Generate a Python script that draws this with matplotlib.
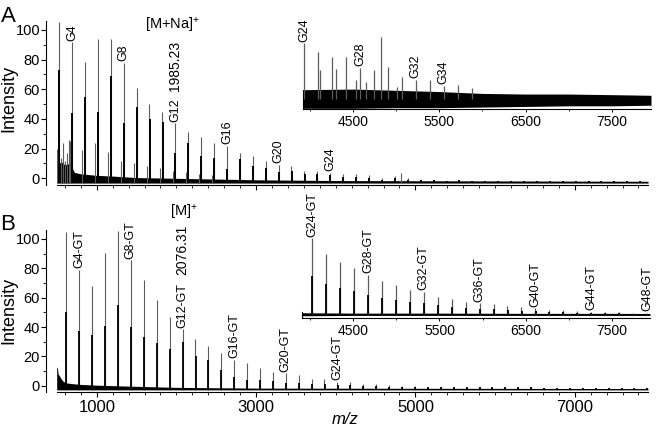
import matplotlib.pyplot as plt
from matplotlib.ticker import MultipleLocator
import numpy as np

plt.rcParams['font.family'] = ['Liberation Sans', 'DejaVu Sans']
plt.rcParams['mathtext.default'] = 'regular'

HEX = 162.05          # glucose residue
MZ_A12 = 1985.23      # G12 [M+Na]+
MZ_B12 = 2076.31      # G12-GT [M]+

# ---- panel A, [M+Na]+ series ----
a_dp = np.arange(3, 49)
a_top = [105, 91.7, 78.7, 94, 94, 78, 61, 50, 45, 37, 31, 28, 24, 22, 17, 15, 12,
         9, 8.5, 5.2, 4.6, 3.8, 2.7, 2.7, 2, 0.5, 1.6, 0,
         -1, -1, -1.5, -1, -1.5, -1.5, -1.5, -1.5, -2, -1.5, -2, -2, -2, -2, -2, -2, -2, -2]
a_core = [73, 44, 55, 45, 69, 37, 48, 40, 38, 17, 24, 15, 14, 6, 13, 8, 7,
          4, 5, 3, 3, 2, 1, 1, 0.5, -1, 0, -1,
          -1, -1, -1.5, -1, -1.5, -1.5, -1.5, -1.5, -2, -1.5, -2, -2, -2, -2, -2, -2, -2, -2]
a_sat_dp = np.arange(4, 16)
a_sat = [25, 19, 24, 18, 12, 10, 8, 7, 5, 4, 3, 2]
a_extra_mz = [500, 506, 545, 573, 600, 622, 652, 4818]
a_extra = [20, 18, 14, 24, 12, 17, 26, 3.8]
a_noise_mz = [497, 520, 560, 600, 650, 690, 720, 800, 900, 1000, 1200, 1500, 2000, 3000, 4000, 7920]
a_noise = [12, 10, 11, 9, 10, 7, 4, 3, 2.5, 2, 1.5, 0.5, 0, -1, -1.5, -2]
a_base = -3.2

# ---- panel A inset ----
ia_dp = np.arange(24, 37)
ia_top = [90, 76, 68, 68, 50, 47, 52, 35, 31, 31, 21, 23, 18]
ia_extra_mz = [4113, 4299, 4531, 4647, 4818, 5004]
ia_extra = [47, 48, 31, 27, 100, 19]
ia_noise_mz = [3912, 4500, 5000, 5500, 6000, 6500, 7000, 7500, 7957]
ia_noise_hi = [15, 16, 14, 12, 9, 8, 8, 7, 6]
ia_noise_lo = [-15, -15, -14, -14, -13, -12, -11, -11, -10]

# ---- panel B, [M]+ series (GT) ----
b_dp = np.arange(3, 49)
b_top = [104.5, 79, 67.7, 90.5, 105, 85.3, 71.8, 58.7, 47, 38.4, 31.6, 27.3, 22.1, 17.6,
         15.8, 12, 9.7, 8.6, 7.6, 4.5, 4.5, 2.9, 2.9, 1.4, 1, 0.5, 0, -0.3,
         -0.5, -0.5, -0.8, -0.8, -1, -1, -1, -1, -1, -1.2, -1.2, -1.2, -1.2, -1.2, -1.2, -1.2, -1.2, -1.2]
b_core = [50, 37, 34.5, 41, 55, 40, 33, 29, 25, 30, 20, 17.6, 11, 6.3,
          4, 4, 3, 2, 2, 1, 1, 0.5, 0.5, 0, 0, -0.5, -1, -1,
          -0.5, -0.5, -0.8, -0.8, -1, -1, -1, -1, -1, -1.2, -1.2, -1.2, -1.2, -1.2, -1.2, -1.2, -1.2, -1.2]
b_noise_mz = [497, 505, 515, 530, 550, 580, 620, 700, 800, 1000, 1300, 2000, 3000, 7920]
b_noise = [12, 13, 8, 7, 5, 3, 2, 1.5, 1, 0.5, 0, -1, -1.5, -1.8]
b_base = -2.7

# ---- panel B inset ----
ib_dp = np.arange(24, 49)
ib_top = [100, 79.3, 69.3, 60.5, 51.7, 43.8, 38.6, 32, 29.9, 23.3, 20.1, 15.8, 14.5,
          13.2, 11.4, 9.2, 7.9, 6, 5, 4.5, 3.5, 3, 2.5, 2, 2]
ib_core = [50, 40, 35, 30, 26, 22, 19, 16, 15, 12, 10, 8, 7,
           6.6, 5.7, 4.6, 4, 3, 2.5, 2.2, 1.8, 1.5, 1.2, 1, 1]
ib_noise_mz = [3900, 4500, 5500, 6500, 7500, 7945]
ib_noise_hi = [2, 1.5, 1.5, 1.2, 1.2, 1]
ib_noise_lo = [-2, -1.5, -1.5, -1.5, -1.5, -1.5]

a_mz = MZ_A12 + (a_dp - 12) * HEX
b_mz = MZ_B12 + (b_dp - 12) * HEX

W, H = 656, 428
fig = plt.figure(figsize=(W / 100, H / 100), dpi=100)


def box(l, t, r, b):
    return [l / W, 1 - b / H, (r - l) / W, (b - t) / H]


ax_a = fig.add_axes(box(56.7, 21, 648, 185))
ax_b = fig.add_axes(box(56.7, 230, 648, 391.5))
in_a = fig.add_axes(box(302.7, 30, 651, 109.3))
in_b = fig.add_axes(box(301.7, 230, 650, 318.3))

GRAY = '#5c5c5c'
LAB = dict(rotation=90, ha='center', va='bottom', fontsize=9,
           textcoords='offset points', xytext=(0, 1.2))


def label(ax, x, y, txt, mass=None, gap=4):
    t = ax.annotate(txt, (x, y), **LAB)
    if mass:
        # mass value in a larger font, stacked above the series name
        fig.canvas.draw()
        h = t.get_window_extent().height * 72 / fig.dpi
        ax.annotate(mass, (x, y), rotation=90, ha='center', va='bottom', fontsize=10,
                    textcoords='offset points', xytext=(0, 1.2 + h + gap))


def main_style(ax, ylo, labels):
    ax.set_xlim(497, 7920)
    ax.set_ylim(ylo, 106)
    for s in ['top', 'right']:
        ax.spines[s].set_visible(False)
    for s in ['left', 'bottom']:
        ax.spines[s].set_linewidth(0.8)
    ax.spines['left'].set_position(('outward', 7.5))
    ax.set_xticks([1000, 3000, 5000, 7000])
    ax.xaxis.set_minor_locator(MultipleLocator(200))
    ax.set_yticks([0, 20, 40, 60, 80, 100])
    ax.yaxis.set_minor_locator(MultipleLocator(10))
    ax.tick_params(which='major', direction='out', length=3.5, width=0.8)
    ax.tick_params(which='minor', direction='out', length=2, width=0.6)
    ax.tick_params(axis='y', labelsize=10.5, pad=1)
    ax.tick_params(axis='x', labelsize=12, pad=2.5, labelbottom=labels)
    ax.patch.set_alpha(0)


def inset_style(ax, xlim, ylim, spine_top):
    ax.set_xlim(*xlim)
    ax.set_ylim(*ylim)
    for s in ['top', 'right']:
        ax.spines[s].set_visible(False)
    ax.spines['bottom'].set_linewidth(0.8)
    ax.spines['left'].set_linewidth(0.8)
    ax.spines['left'].set_bounds(ylim[0], spine_top)
    ax.set_yticks([])
    ax.set_xticks([4500, 5500, 6500, 7500])
    ax.xaxis.set_minor_locator(MultipleLocator(500))
    ax.tick_params(which='major', direction='out', length=2.5, width=0.7, labelsize=10, pad=1.5)
    ax.tick_params(which='minor', direction='out', length=1.5, width=0.6)
    ax.patch.set_alpha(0)


main_style(ax_a, -4.5, False)
main_style(ax_b, -3.8, True)
inset_style(in_a, (3912, 7957), (-16.6, 111.3), 14.5)
inset_style(in_b, (3900, 7945), (-5.3, 111), 3.4)

# ---- panel A main ----
ax_a.fill_between(a_noise_mz, a_base, a_noise, color='k', lw=0)
ax_a.vlines(a_mz, a_base, a_top, color=GRAY, lw=0.8)
ax_a.vlines(a_mz + 3, a_base, a_core, color='k', lw=1.4)
ax_a.vlines(MZ_A12 + (a_sat_dp - 12) * HEX - 30, a_base, a_sat, color=GRAY, lw=0.8)
ax_a.vlines(a_extra_mz, a_base, a_extra, color=GRAY, lw=0.8)
for n in [4, 8, 16, 20, 24]:
    i = n - 3
    label(ax_a, a_mz[i], a_top[i], f'G{n}')
label(ax_a, a_mz[9], a_top[9], 'G12', mass='1985.23', gap=5)
ax_a.text(1946, 103, '[M+Na]$^{+}$', fontsize=10.5, ha='center', va='center')

# ---- panel A inset ----
ia_mz = MZ_A12 + (ia_dp - 12) * HEX
in_a.fill_between(ia_noise_mz, ia_noise_lo, ia_noise_hi, color='k', lw=0)
in_a.vlines(ia_mz, 0, ia_top, color=GRAY, lw=0.9)
in_a.vlines(ia_extra_mz, 0, ia_extra, color=GRAY, lw=0.9)
for n in [24, 28, 32, 34]:
    i = n - 24
    label(in_a, ia_mz[i], ia_top[i], f'G{n}')

# ---- panel B main ----
ax_b.fill_between(b_noise_mz, b_base, b_noise, color='k', lw=0)
ax_b.vlines(b_mz, b_base, b_top, color=GRAY, lw=0.8)
ax_b.vlines(b_mz + 2, b_base, b_core, color='k', lw=1.3)
for n in [4, 8, 16, 20, 24]:
    i = n - 3
    label(ax_b, b_mz[i], b_top[i], f'G{n}-GT')
label(ax_b, b_mz[9], b_top[9], 'G12-GT', mass='2076.31', gap=6)
ax_b.text(2097, 118, '[M]$^{+}$', fontsize=10.5, ha='center', va='center')

# ---- panel B inset ----
ib_mz = MZ_B12 + (ib_dp - 12) * HEX
in_b.fill_between(ib_noise_mz, ib_noise_lo, ib_noise_hi, color='k', lw=0)
in_b.vlines(ib_mz, 0, ib_top, color=GRAY, lw=0.9)
in_b.vlines(ib_mz + 2, 0, ib_core, color='k', lw=1.3)
for n in [24, 28, 32, 36, 40, 44, 48]:
    i = n - 24
    label(in_b, ib_mz[i], ib_top[i], f'G{n}-GT')

fig.text(0.5 / W, 1 - 22 / H, 'A', fontsize=16, ha='left', va='baseline')
fig.text(0.5 / W, 1 - 230 / H, 'B', fontsize=16, ha='left', va='baseline')
fig.text(9 / W, 1 - 98.5 / H, 'Intensity', fontsize=13, rotation=90, ha='center', va='center')
fig.text(9 / W, 1 - 310 / H, 'Intensity', fontsize=13, rotation=90, ha='center', va='center')
fig.text(345 / W, 1 - 420 / H, 'm/z', fontsize=12, style='italic', ha='center', va='center')

fig.savefig('out.png', dpi=100)
